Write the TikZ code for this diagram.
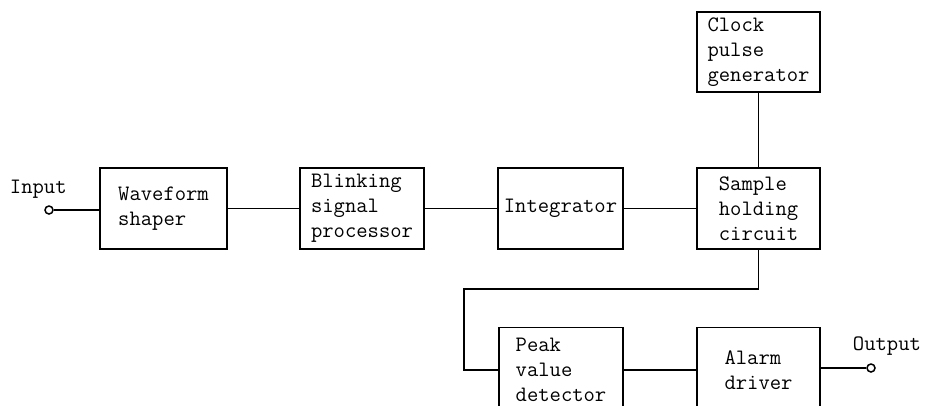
\documentclass[tikz,border=0pt]{standalone}
\usepackage{fontspec}
\begin{document}
\begin{tikzpicture}[x=1pt, y=-1pt, line width=1.9pt,
    font=\fontsize{22}{25}\selectfont\ttfamily,
    block/.style={draw, inner sep=0pt, align=left},
    port/.style={draw, circle, fill=white, inner sep=0pt, minimum size=8pt, line width=1.5pt}]
      \useasboundingbox (0, 0) rectangle (925, 405);
      \clip (0, 0) rectangle (925, 405);
      % blocks
      \node [block, minimum width=127, minimum height=81] (wave) at (163.5, 208.5) {Waveform\\shaper};
      \node [block, minimum width=124, minimum height=81] (blink) at (362, 208.5) {Blinking\\signal\\processor};
      \node [block, minimum width=125, minimum height=81] (integ) at (560.5, 208.5) {Integrator};
      \node [block, minimum width=123, minimum height=81] (sample) at (758.5, 208.5) {Sample\\holding\\circuit};
      \node [block, minimum width=123, minimum height=80] (clock) at (758.5, 52) {Clock\\pulse\\generator};
      \node [block, minimum width=124, minimum height=85] (peak) at (561, 370) {Peak\\value\\detector};
      \node [block, minimum width=123, minimum height=85] (alarm) at (758.5, 370) {Alarm\\driver};
      % terminals
      \node [port] (in) at (49, 210) {};
      \node [anchor=base west, inner sep=0pt] (inlabel) at (9, 193) {Input};
      \node [port] (out) at (871, 368) {};
      \node [anchor=base west, inner sep=0pt] (outlabel) at (852, 350) {Output};
      \coordinate (turn) at (464, 289);
      % connections
      \draw (in) -- (in -| wave.west);
      \draw (wave) -- (blink);
      \draw (blink) -- (integ);
      \draw (integ) -- (sample);
      \draw (clock) -- (sample);
      \draw (sample.south) |- (turn) |- (peak.west);
      \draw (peak) -- (alarm);
      \draw (out -| alarm.east) -- (out);
    \end{tikzpicture}
\end{document}
